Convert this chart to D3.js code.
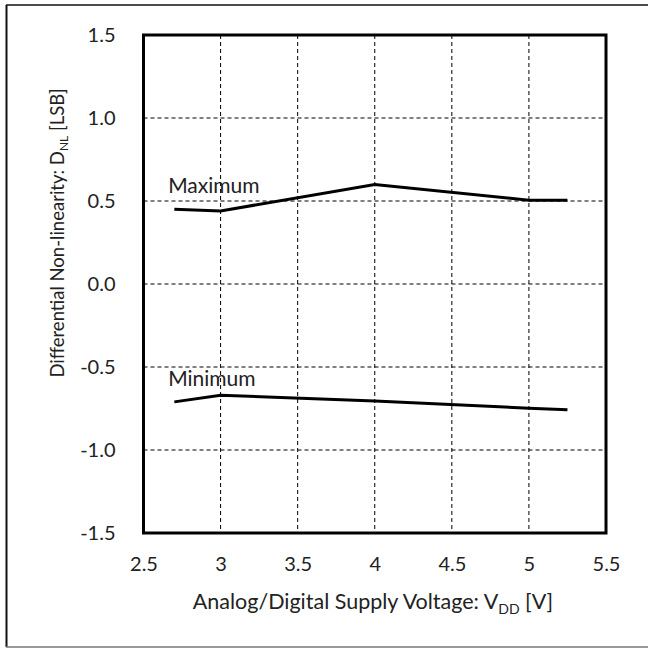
<!DOCTYPE html>
<html>
<head>
<meta charset="utf-8">
<script src="https://cdn.jsdelivr.net/npm/d3@7"></script>
<style>
  body { margin: 0; background: #fff; }
  text { font-family: Lato, "Open Sans", sans-serif; fill: #222; }
</style>
</head>
<body>
<div id="chart"></div>
<script>
const voltage = [2.7, 3, 4, 5, 5.25];
const maxDnl = [0.45, 0.44, 0.60, 0.505, 0.505];
const minDnl = [-0.71, -0.67, -0.705, -0.748, -0.757];
const xTicks = [2.5, 3, 3.5, 4, 4.5, 5, 5.5];
const yTicks = [-1.5, -1.0, -0.5, 0.0, 0.5, 1.0, 1.5];

const svgWidth = 648;
const svgHeight = 648;
const margin = { top: 35, right: 42, bottom: 115, left: 143.5 };
const width = svgWidth - margin.left - margin.right;
const height = svgHeight - margin.top - margin.bottom;

const svg = d3.select("#chart")
    .append("svg")
    .attr("width", svgWidth)
    .attr("height", svgHeight);

// outer frame
svg.append("line").attr("x1", 6).attr("x2", 648).attr("y1", 5).attr("y2", 5)
    .attr("stroke", "#111").attr("stroke-width", 1.5);
svg.append("line").attr("x1", 6.5).attr("x2", 6.5).attr("y1", 5).attr("y2", 647)
    .attr("stroke", "#111").attr("stroke-width", 2);
svg.append("line").attr("x1", 6).attr("x2", 648).attr("y1", 647).attr("y2", 647)
    .attr("stroke", "#777").attr("stroke-width", 1.5);

const g = svg.append("g")
    .attr("transform", `translate(${margin.left},${margin.top})`);

const x = d3.scaleLinear().domain([2.5, 5.5]).range([0, width]);
const y = d3.scaleLinear().domain([-1.5, 1.5]).range([height, 0]);

// grid
g.append("g")
    .selectAll("line")
    .data(xTicks.slice(1, -1))
    .enter()
    .append("line")
    .attr("x1", d => x(d)).attr("x2", d => x(d))
    .attr("y1", 0).attr("y2", height)
    .attr("stroke", "#000").attr("stroke-width", 1)
    .attr("stroke-dasharray", "4,3");

g.append("g")
    .selectAll("line")
    .data(yTicks.slice(1, -1))
    .enter()
    .append("line")
    .attr("x1", 0).attr("x2", width)
    .attr("y1", d => y(d)).attr("y2", d => y(d))
    .attr("stroke", "#000").attr("stroke-width", 1)
    .attr("stroke-dasharray", "4,3");

// axes (labels only)
const xAxis = g.append("g")
    .attr("transform", `translate(0,${height})`)
    .call(d3.axisBottom(x).tickValues(xTicks).tickFormat(d3.format("")).tickSize(0).tickPadding(24));
xAxis.select(".domain").remove();
xAxis.selectAll("text").style("font-size", "20px").attr("fill", "#222")
    .style("font-family", "Lato, sans-serif");

const yFmt = d => d.toFixed(1);
const yAxis = g.append("g")
    .call(d3.axisLeft(y).tickValues(yTicks).tickFormat(yFmt).tickSize(0).tickPadding(28));
yAxis.select(".domain").remove();
yAxis.selectAll("text").style("font-size", "20px").attr("fill", "#222")
    .style("font-family", "Lato, sans-serif");

// plot frame
g.append("rect")
    .attr("x", 0).attr("y", 0)
    .attr("width", width).attr("height", height)
    .attr("fill", "none").attr("stroke", "#000").attr("stroke-width", 3);

// series
const line = d3.line()
    .x((d, i) => x(voltage[i]))
    .y(d => y(d));

[maxDnl, minDnl].forEach(series => {
    g.append("path")
        .datum(series)
        .attr("d", line)
        .attr("fill", "none")
        .attr("stroke", "#000")
        .attr("stroke-width", 3);
});

g.append("text").attr("x", x(2.66)).attr("y", y(0.55))
    .style("font-size", "21px").text("Maximum");
g.append("text").attr("x", x(2.66)).attr("y", y(-0.614))
    .style("font-size", "21px").text("Minimum");

// axis titles
const xt = svg.append("text")
    .attr("x", 373).attr("y", 609)
    .attr("text-anchor", "middle")
    .style("font-size", "21.5px");
xt.append("tspan").text("Analog/Digital Supply Voltage: V");
xt.append("tspan").attr("dy", 5).style("font-size", "14px").text("DD");
xt.append("tspan").attr("dy", -5).text(" [V]");

const yt = svg.append("text")
    .attr("transform", "translate(64,233) rotate(-90)")
    .attr("text-anchor", "middle")
    .style("font-size", "18.5px");
yt.append("tspan").text("Differential Non-linearity: D");
yt.append("tspan").attr("dy", 4).style("font-size", "12px").text("NL");
yt.append("tspan").attr("dy", -4).text(" [LSB]");
</script>
</body>
</html>
